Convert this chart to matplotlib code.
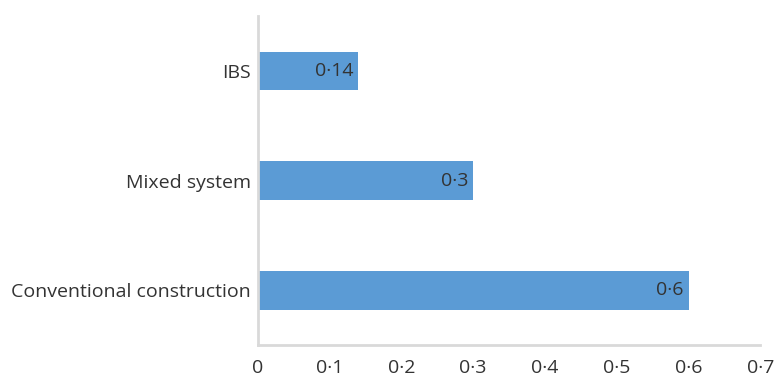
import matplotlib.pyplot as plt
from matplotlib.ticker import FuncFormatter

categories = ['Conventional construction', 'Mixed system', 'IBS']
values = [0.6, 0.3, 0.14]
value_labels = ['0·6', '0·3', '0·14']

plt.rcParams['font.family'] = ['Open Sans', 'DejaVu Sans']

fig = plt.figure(figsize=(7.79, 3.76), dpi=100)
ax = fig.add_axes([0.331, 0.082, 0.645, 0.875])

bar_color = '#5b9bd5'
text_color = '#333333'
ax.barh(range(len(categories)), values, height=0.35, color=bar_color)

for i, (v, lab) in enumerate(zip(values, value_labels)):
    ax.text(v - 0.007, i, lab, ha='right', va='center', fontsize=14, color=text_color)

ax.set_yticks(range(len(categories)))
ax.set_yticklabels(categories, fontsize=14, color=text_color)
ax.set_xlim(0, 0.7)
ax.set_ylim(-0.5, 2.5)
ax.set_xticks([0, 0.1, 0.2, 0.3, 0.4, 0.5, 0.6, 0.7])
ax.xaxis.set_major_formatter(FuncFormatter(lambda x, p: '0' if x == 0 else f'{x:.1f}'.replace('.', '·')))
ax.tick_params(axis='x', labelsize=14, labelcolor=text_color, length=0, pad=10)
ax.tick_params(axis='y', length=0, pad=5)

for s in ['top', 'right']:
    ax.spines[s].set_visible(False)
for s in ['left', 'bottom']:
    ax.spines[s].set_color('#d9d9d9')
    ax.spines[s].set_linewidth(2)

fig.savefig('out.png', dpi=100)
